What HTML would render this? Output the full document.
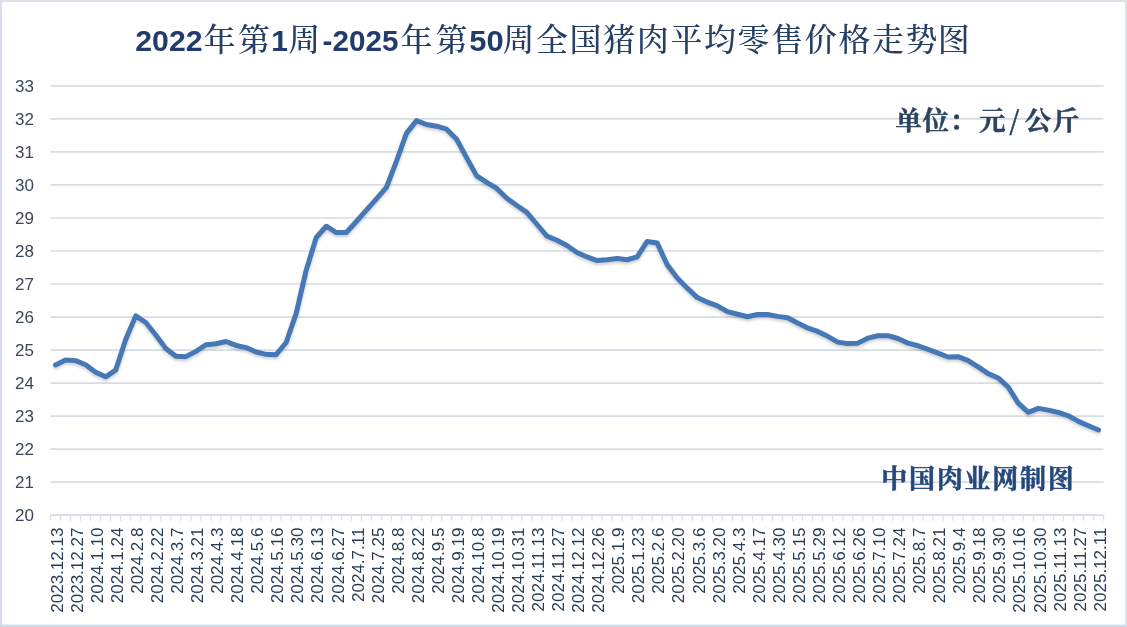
<!DOCTYPE html>
<html lang="zh-CN"><head><meta charset="utf-8"><title>全国猪肉平均零售价格走势图</title>
<style>html,body{margin:0;padding:0;background:#fff;}body{width:1127px;height:627px;overflow:hidden;}svg{display:block;}.ax{font-family:"Liberation Sans",sans-serif;font-size:17px;fill:#3a4959;}.xl{font-size:16.6px;fill:#283c53;}.tn{font-family:"Liberation Sans",sans-serif;font-weight:bold;font-size:30px;fill:#213c6c;}.tc{font-family:"Liberation Serif","Noto Serif CJK SC",serif;font-size:32px;font-weight:500;fill:#263f66;}.un{font-family:"Liberation Serif","Noto Serif CJK SC",serif;font-weight:bold;font-size:26.5px;fill:#2c425e;stroke:#2c425e;stroke-width:0.45px;}.wm{font-family:"Liberation Serif","Noto Serif CJK SC",serif;font-weight:bold;font-size:26px;fill:#25487c;stroke:#25487c;stroke-width:0.5px;}</style></head><body>
<svg width="1127" height="627" viewBox="0 0 1127 627">
<defs><filter id="sh" x="-5%" y="-20%" width="110%" height="150%"><feGaussianBlur in="SourceAlpha" stdDeviation="1.6"/><feOffset dx="0.3" dy="2" result="b"/><feComponentTransfer><feFuncA type="linear" slope="0.2"/></feComponentTransfer><feMerge><feMergeNode/><feMergeNode in="SourceGraphic"/></feMerge></filter></defs>
<rect x="0" y="0" width="1127" height="627" fill="#ffffff"/>
<rect x="0" y="0" width="1127" height="1.9" fill="#d9e0e9"/>
<rect x="0" y="0" width="1.9" height="627" fill="#d5dde9"/>
<rect x="1125" y="0" width="2" height="627" fill="#dae2ee"/>
<rect x="0" y="624.6" width="1127" height="2.4" fill="#d0dbe5"/>
<line x1="50.5" x2="1103.5" y1="482.14" y2="482.14" stroke="#d7dde4" stroke-width="1.7"/>
<line x1="50.5" x2="1103.5" y1="449.12" y2="449.12" stroke="#d7dde4" stroke-width="1.7"/>
<line x1="50.5" x2="1103.5" y1="416.10" y2="416.10" stroke="#d7dde4" stroke-width="1.7"/>
<line x1="50.5" x2="1103.5" y1="383.08" y2="383.08" stroke="#d7dde4" stroke-width="1.7"/>
<line x1="50.5" x2="1103.5" y1="350.06" y2="350.06" stroke="#d7dde4" stroke-width="1.7"/>
<line x1="50.5" x2="1103.5" y1="317.04" y2="317.04" stroke="#d7dde4" stroke-width="1.7"/>
<line x1="50.5" x2="1103.5" y1="284.02" y2="284.02" stroke="#d7dde4" stroke-width="1.7"/>
<line x1="50.5" x2="1103.5" y1="251.00" y2="251.00" stroke="#d7dde4" stroke-width="1.7"/>
<line x1="50.5" x2="1103.5" y1="217.98" y2="217.98" stroke="#d7dde4" stroke-width="1.7"/>
<line x1="50.5" x2="1103.5" y1="184.96" y2="184.96" stroke="#d7dde4" stroke-width="1.7"/>
<line x1="50.5" x2="1103.5" y1="151.94" y2="151.94" stroke="#d7dde4" stroke-width="1.7"/>
<line x1="50.5" x2="1103.5" y1="118.92" y2="118.92" stroke="#d7dde4" stroke-width="1.7"/>
<line x1="50.5" x2="1103.5" y1="85.90" y2="85.90" stroke="#d7dde4" stroke-width="1.7"/>
<line x1="50.5" x2="1103.5" y1="515.16" y2="515.16" stroke="#d3dae4" stroke-width="1.6"/>
<path d="M50.50 515.16v5.5M60.53 515.16v5.5M70.56 515.16v5.5M80.59 515.16v5.5M90.61 515.16v5.5M100.64 515.16v5.5M110.67 515.16v5.5M120.70 515.16v5.5M130.73 515.16v5.5M140.76 515.16v5.5M150.79 515.16v5.5M160.81 515.16v5.5M170.84 515.16v5.5M180.87 515.16v5.5M190.90 515.16v5.5M200.93 515.16v5.5M210.96 515.16v5.5M220.99 515.16v5.5M231.01 515.16v5.5M241.04 515.16v5.5M251.07 515.16v5.5M261.10 515.16v5.5M271.13 515.16v5.5M281.16 515.16v5.5M291.19 515.16v5.5M301.21 515.16v5.5M311.24 515.16v5.5M321.27 515.16v5.5M331.30 515.16v5.5M341.33 515.16v5.5M351.36 515.16v5.5M361.39 515.16v5.5M371.41 515.16v5.5M381.44 515.16v5.5M391.47 515.16v5.5M401.50 515.16v5.5M411.53 515.16v5.5M421.56 515.16v5.5M431.59 515.16v5.5M441.61 515.16v5.5M451.64 515.16v5.5M461.67 515.16v5.5M471.70 515.16v5.5M481.73 515.16v5.5M491.76 515.16v5.5M501.79 515.16v5.5M511.81 515.16v5.5M521.84 515.16v5.5M531.87 515.16v5.5M541.90 515.16v5.5M551.93 515.16v5.5M561.96 515.16v5.5M571.99 515.16v5.5M582.01 515.16v5.5M592.04 515.16v5.5M602.07 515.16v5.5M612.10 515.16v5.5M622.13 515.16v5.5M632.16 515.16v5.5M642.19 515.16v5.5M652.21 515.16v5.5M662.24 515.16v5.5M672.27 515.16v5.5M682.30 515.16v5.5M692.33 515.16v5.5M702.36 515.16v5.5M712.39 515.16v5.5M722.41 515.16v5.5M732.44 515.16v5.5M742.47 515.16v5.5M752.50 515.16v5.5M762.53 515.16v5.5M772.56 515.16v5.5M782.59 515.16v5.5M792.61 515.16v5.5M802.64 515.16v5.5M812.67 515.16v5.5M822.70 515.16v5.5M832.73 515.16v5.5M842.76 515.16v5.5M852.79 515.16v5.5M862.81 515.16v5.5M872.84 515.16v5.5M882.87 515.16v5.5M892.90 515.16v5.5M902.93 515.16v5.5M912.96 515.16v5.5M922.99 515.16v5.5M933.01 515.16v5.5M943.04 515.16v5.5M953.07 515.16v5.5M963.10 515.16v5.5M973.13 515.16v5.5M983.16 515.16v5.5M993.19 515.16v5.5M1003.21 515.16v5.5M1013.24 515.16v5.5M1023.27 515.16v5.5M1033.30 515.16v5.5M1043.33 515.16v5.5M1053.36 515.16v5.5M1063.39 515.16v5.5M1073.41 515.16v5.5M1083.44 515.16v5.5M1093.47 515.16v5.5M1103.50 515.16v5.5" stroke="#d9dfe8" stroke-width="1.3" fill="none"/>
<text class="ax" x="34" y="521.26" text-anchor="end">20</text>
<text class="ax" x="34" y="488.24" text-anchor="end">21</text>
<text class="ax" x="34" y="455.22" text-anchor="end">22</text>
<text class="ax" x="34" y="422.20" text-anchor="end">23</text>
<text class="ax" x="34" y="389.18" text-anchor="end">24</text>
<text class="ax" x="34" y="356.16" text-anchor="end">25</text>
<text class="ax" x="34" y="323.14" text-anchor="end">26</text>
<text class="ax" x="34" y="290.12" text-anchor="end">27</text>
<text class="ax" x="34" y="257.10" text-anchor="end">28</text>
<text class="ax" x="34" y="224.08" text-anchor="end">29</text>
<text class="ax" x="34" y="191.06" text-anchor="end">30</text>
<text class="ax" x="34" y="158.04" text-anchor="end">31</text>
<text class="ax" x="34" y="125.02" text-anchor="end">32</text>
<text class="ax" x="34" y="92.00" text-anchor="end">33</text>
<text class="ax xl" transform="translate(62.70 527.6) rotate(-90) scale(1.025 1)" text-anchor="end">2023.12.13</text>
<text class="ax xl" transform="translate(82.76 527.6) rotate(-90) scale(1.025 1)" text-anchor="end">2023.12.27</text>
<text class="ax xl" transform="translate(102.81 527.6) rotate(-90) scale(1.025 1)" text-anchor="end">2024.1.10</text>
<text class="ax xl" transform="translate(122.87 527.6) rotate(-90) scale(1.025 1)" text-anchor="end">2024.1.24</text>
<text class="ax xl" transform="translate(142.93 527.6) rotate(-90) scale(1.025 1)" text-anchor="end">2024.2.8</text>
<text class="ax xl" transform="translate(162.99 527.6) rotate(-90) scale(1.025 1)" text-anchor="end">2024.2.22</text>
<text class="ax xl" transform="translate(183.04 527.6) rotate(-90) scale(1.025 1)" text-anchor="end">2024.3.7</text>
<text class="ax xl" transform="translate(203.10 527.6) rotate(-90) scale(1.025 1)" text-anchor="end">2024.3.21</text>
<text class="ax xl" transform="translate(223.16 527.6) rotate(-90) scale(1.025 1)" text-anchor="end">2024.4.3</text>
<text class="ax xl" transform="translate(243.21 527.6) rotate(-90) scale(1.025 1)" text-anchor="end">2024.4.18</text>
<text class="ax xl" transform="translate(263.27 527.6) rotate(-90) scale(1.025 1)" text-anchor="end">2024.5.6</text>
<text class="ax xl" transform="translate(283.33 527.6) rotate(-90) scale(1.025 1)" text-anchor="end">2024.5.16</text>
<text class="ax xl" transform="translate(303.39 527.6) rotate(-90) scale(1.025 1)" text-anchor="end">2024.5.30</text>
<text class="ax xl" transform="translate(323.44 527.6) rotate(-90) scale(1.025 1)" text-anchor="end">2024.6.13</text>
<text class="ax xl" transform="translate(343.50 527.6) rotate(-90) scale(1.025 1)" text-anchor="end">2024.6.27</text>
<text class="ax xl" transform="translate(363.56 527.6) rotate(-90) scale(1.025 1)" text-anchor="end">2024.7.11</text>
<text class="ax xl" transform="translate(383.61 527.6) rotate(-90) scale(1.025 1)" text-anchor="end">2024.7.25</text>
<text class="ax xl" transform="translate(403.67 527.6) rotate(-90) scale(1.025 1)" text-anchor="end">2024.8.8</text>
<text class="ax xl" transform="translate(423.73 527.6) rotate(-90) scale(1.025 1)" text-anchor="end">2024.8.22</text>
<text class="ax xl" transform="translate(443.79 527.6) rotate(-90) scale(1.025 1)" text-anchor="end">2024.9.5</text>
<text class="ax xl" transform="translate(463.84 527.6) rotate(-90) scale(1.025 1)" text-anchor="end">2024.9.19</text>
<text class="ax xl" transform="translate(483.90 527.6) rotate(-90) scale(1.025 1)" text-anchor="end">2024.10.8</text>
<text class="ax xl" transform="translate(503.96 527.6) rotate(-90) scale(1.025 1)" text-anchor="end">2024.10.19</text>
<text class="ax xl" transform="translate(524.01 527.6) rotate(-90) scale(1.025 1)" text-anchor="end">2024.10.31</text>
<text class="ax xl" transform="translate(544.07 527.6) rotate(-90) scale(1.025 1)" text-anchor="end">2024.11.13</text>
<text class="ax xl" transform="translate(564.13 527.6) rotate(-90) scale(1.025 1)" text-anchor="end">2024.11.27</text>
<text class="ax xl" transform="translate(584.19 527.6) rotate(-90) scale(1.025 1)" text-anchor="end">2024.12.12</text>
<text class="ax xl" transform="translate(604.24 527.6) rotate(-90) scale(1.025 1)" text-anchor="end">2024.12.26</text>
<text class="ax xl" transform="translate(624.30 527.6) rotate(-90) scale(1.025 1)" text-anchor="end">2025.1.9</text>
<text class="ax xl" transform="translate(644.36 527.6) rotate(-90) scale(1.025 1)" text-anchor="end">2025.1.23</text>
<text class="ax xl" transform="translate(664.41 527.6) rotate(-90) scale(1.025 1)" text-anchor="end">2025.2.6</text>
<text class="ax xl" transform="translate(684.47 527.6) rotate(-90) scale(1.025 1)" text-anchor="end">2025.2.20</text>
<text class="ax xl" transform="translate(704.53 527.6) rotate(-90) scale(1.025 1)" text-anchor="end">2025.3.6</text>
<text class="ax xl" transform="translate(724.59 527.6) rotate(-90) scale(1.025 1)" text-anchor="end">2025.3.20</text>
<text class="ax xl" transform="translate(744.64 527.6) rotate(-90) scale(1.025 1)" text-anchor="end">2025.4.3</text>
<text class="ax xl" transform="translate(764.70 527.6) rotate(-90) scale(1.025 1)" text-anchor="end">2025.4.17</text>
<text class="ax xl" transform="translate(784.76 527.6) rotate(-90) scale(1.025 1)" text-anchor="end">2025.4.30</text>
<text class="ax xl" transform="translate(804.81 527.6) rotate(-90) scale(1.025 1)" text-anchor="end">2025.5.15</text>
<text class="ax xl" transform="translate(824.87 527.6) rotate(-90) scale(1.025 1)" text-anchor="end">2025.5.29</text>
<text class="ax xl" transform="translate(844.93 527.6) rotate(-90) scale(1.025 1)" text-anchor="end">2025.6.12</text>
<text class="ax xl" transform="translate(864.99 527.6) rotate(-90) scale(1.025 1)" text-anchor="end">2025.6.26</text>
<text class="ax xl" transform="translate(885.04 527.6) rotate(-90) scale(1.025 1)" text-anchor="end">2025.7.10</text>
<text class="ax xl" transform="translate(905.10 527.6) rotate(-90) scale(1.025 1)" text-anchor="end">2025.7.24</text>
<text class="ax xl" transform="translate(925.16 527.6) rotate(-90) scale(1.025 1)" text-anchor="end">2025.8.7</text>
<text class="ax xl" transform="translate(945.21 527.6) rotate(-90) scale(1.025 1)" text-anchor="end">2025.8.21</text>
<text class="ax xl" transform="translate(965.27 527.6) rotate(-90) scale(1.025 1)" text-anchor="end">2025.9.4</text>
<text class="ax xl" transform="translate(985.33 527.6) rotate(-90) scale(1.025 1)" text-anchor="end">2025.9.18</text>
<text class="ax xl" transform="translate(1005.39 527.6) rotate(-90) scale(1.025 1)" text-anchor="end">2025.9.30</text>
<text class="ax xl" transform="translate(1025.44 527.6) rotate(-90) scale(1.025 1)" text-anchor="end">2025.10.16</text>
<text class="ax xl" transform="translate(1045.50 527.6) rotate(-90) scale(1.025 1)" text-anchor="end">2025.10.30</text>
<text class="ax xl" transform="translate(1065.56 527.6) rotate(-90) scale(1.025 1)" text-anchor="end">2025.11.13</text>
<text class="ax xl" transform="translate(1085.61 527.6) rotate(-90) scale(1.025 1)" text-anchor="end">2025.11.27</text>
<text class="ax xl" transform="translate(1105.67 527.6) rotate(-90) scale(1.025 1)" text-anchor="end">2025.12.11</text>
<polyline points="55.51,364.92 65.54,359.97 75.57,360.63 85.60,364.75 95.63,372.18 105.66,376.81 115.69,370.20 125.71,339.49 135.74,315.88 145.77,322.49 155.80,335.04 165.83,348.41 175.86,356.17 185.89,356.66 195.91,351.38 205.94,344.78 215.97,343.79 226.00,341.47 236.03,345.44 246.06,347.58 256.09,352.04 266.11,354.35 276.14,354.68 286.17,342.47 296.20,313.41 306.23,270.15 316.26,237.46 326.29,226.24 336.31,232.51 346.34,232.51 356.37,221.45 366.40,210.06 376.43,198.83 386.46,187.44 396.49,161.02 406.51,133.12 416.54,120.57 426.57,124.53 436.60,126.18 446.63,129.16 456.66,139.23 466.69,157.88 476.71,175.88 486.74,182.32 496.77,188.43 506.80,198.17 516.83,205.43 526.86,212.37 536.89,224.25 546.91,236.14 556.94,240.27 566.97,245.55 577.00,252.49 587.03,256.94 597.06,260.58 607.09,259.75 617.11,258.59 627.14,259.75 637.17,256.94 647.20,241.42 657.23,243.08 667.26,264.87 677.29,278.08 687.31,288.15 697.34,297.56 707.37,302.18 717.40,305.81 727.43,311.59 737.46,314.23 747.49,316.71 757.51,314.56 767.54,314.56 777.57,316.38 787.60,317.70 797.63,322.98 807.66,327.94 817.69,331.40 827.71,336.36 837.74,342.14 847.77,343.62 857.80,343.13 867.83,338.17 877.86,335.70 887.89,335.70 897.91,338.50 907.94,343.13 917.97,345.77 928.00,349.40 938.03,353.20 948.06,356.99 958.09,356.66 968.11,360.63 978.14,366.90 988.17,373.67 998.20,377.96 1008.23,387.21 1018.26,403.06 1028.29,412.30 1038.31,408.34 1048.34,410.16 1058.37,412.47 1068.40,415.77 1078.43,421.38 1088.46,425.68 1098.49,429.97" fill="none" stroke="#4578b5" stroke-width="5" stroke-linejoin="round" stroke-linecap="round" filter="url(#sh)"/>
<text class="tn" x="135.3" y="51" textLength="67.2" lengthAdjust="spacingAndGlyphs">2022</text>
<text class="tc" text-anchor="middle" y="51" x="219.4 254.0">年第</text>
<text class="tn" text-anchor="middle" x="279.6" y="51">1</text>
<text class="tc" text-anchor="middle" y="51" x="304.2">周</text>
<text class="tn" x="322.6" y="51" textLength="75.8" lengthAdjust="spacingAndGlyphs">-2025</text>
<text class="tc" text-anchor="middle" y="51" x="416.6 451.4">年第</text>
<text class="tn" x="469.3" y="51" textLength="34.4" lengthAdjust="spacingAndGlyphs">50</text>
<text class="tc" text-anchor="middle" y="51" x="518.4 552.0 585.6 619.2 652.8 686.4 720.0 753.6 787.2 820.8 854.4 888.0 921.6 953.7">周全国猪肉平均零售价格走势图</text>
<text class="un" text-anchor="middle" y="129.9" x="908.8 935.7 962.7 992.3">单位：元</text>
<text class="un" text-anchor="middle" y="129.9" x="1014.2" style="font-family:'Noto Serif CJK SC',serif" stroke="#2c425e" stroke-width="0.9">/</text>
<text class="un" text-anchor="middle" y="129.9" x="1038 1066">公斤</text>
<text class="wm" text-anchor="middle" y="488.4" x="894.2 922.0 949.7 977.5 1005.2 1033.0 1060.7">中国肉业网制图</text>
</svg></body></html>
